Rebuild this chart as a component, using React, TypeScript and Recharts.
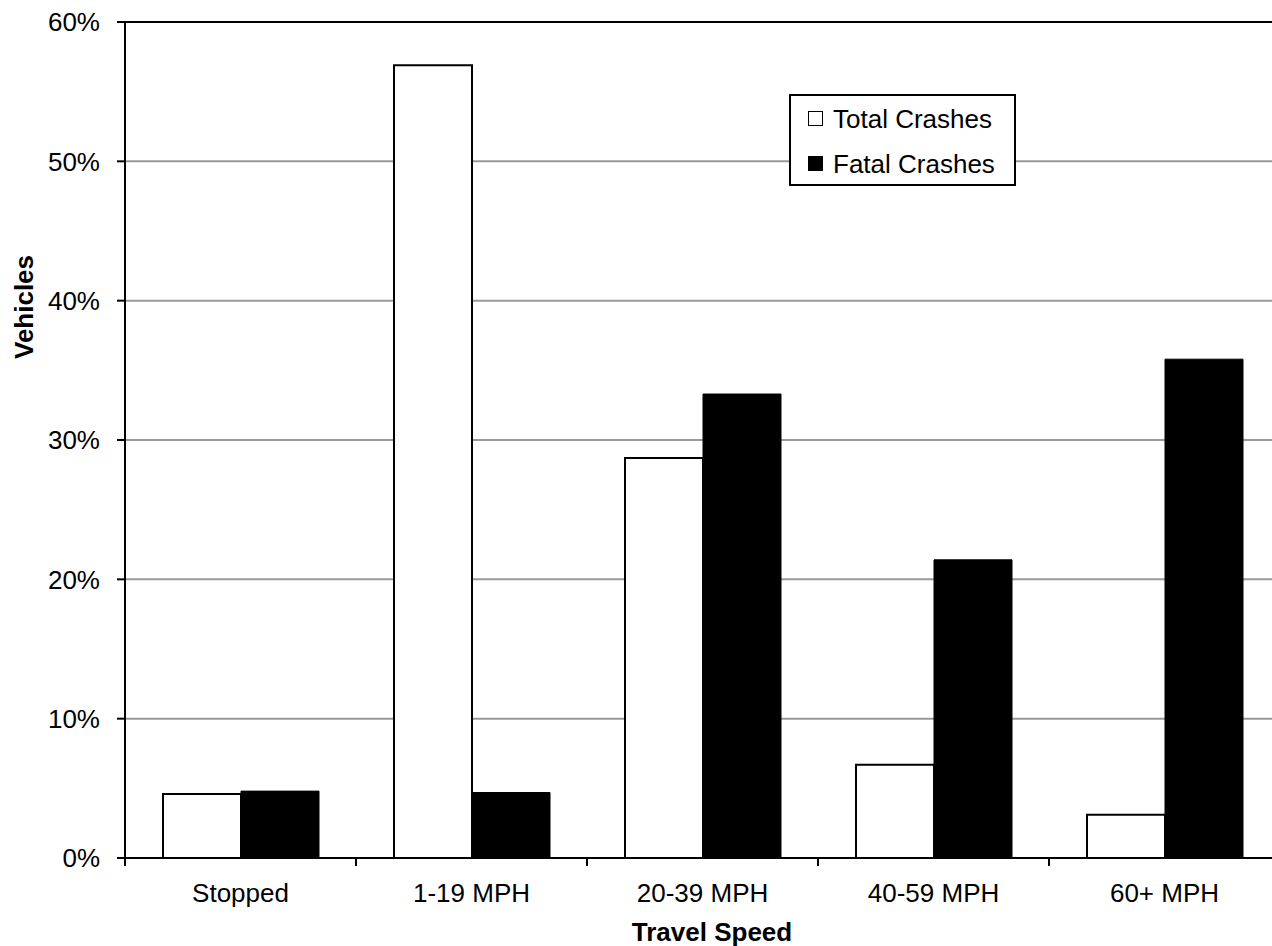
import { BarChart, Bar, XAxis, YAxis, CartesianGrid, ReferenceLine, Legend } from 'recharts'

const speeds = ['Stopped', '1-19 MPH', '20-39 MPH', '40-59 MPH', '60+ MPH']
const totalCrashes = [0.046, 0.569, 0.287, 0.067, 0.031]
const fatalCrashes = [0.048, 0.047, 0.333, 0.214, 0.358]
const yTicks = [0, 0.1, 0.2, 0.3, 0.4, 0.5, 0.6]

const data = speeds.map((speed, i) => ({ speed, total: totalCrashes[i], fatal: fatalCrashes[i] }))

const CHART_W = 1300
const CHART_H = 946
const Y_W = 125
const RIGHT = 20
const BAND = (CHART_W - Y_W - RIGHT) / speeds.length
const FONT = '"Liberation Sans", Arial, sans-serif'

function SpeedTick(props: any) {
  const { x, y, payload } = props
  const edge = x - BAND / 2
  return (
    <g>
      <line x1={edge} x2={edge} y1={y} y2={y + 8} stroke="#000" strokeWidth={2} />
      <text x={x} y={y + 44} textAnchor="middle" fontSize={26} fill="#000" fontFamily={FONT}>
        {payload.value}
      </text>
    </g>
  )
}

function CrashLegend() {
  const items = [
    { name: 'Total Crashes', fill: '#fff' },
    { name: 'Fatal Crashes', fill: '#000' },
  ]
  return (
    <div
      style={{
        width: 227,
        height: 92,
        boxSizing: 'border-box',
        border: '2px solid #000',
        background: '#fff',
        fontFamily: FONT,
        fontSize: 26,
        color: '#000',
        paddingTop: 0,
      }}
    >
      {items.map(it => (
        <div key={it.name} style={{ display: 'flex', alignItems: 'center', height: 45, paddingLeft: 17 }}>
          <span
            style={{
              display: 'inline-block',
              width: 15,
              height: 15,
              boxSizing: 'border-box',
              border: '1.5px solid #000',
              background: it.fill,
              marginRight: 10,
            }}
          />
          <span style={{ lineHeight: 1 }}>{it.name}</span>
        </div>
      ))}
    </div>
  )
}

export default function App() {
  return (
    <div
      style={{
        position: 'fixed',
        left: 0,
        top: 0,
        width: 1272,
        height: 946,
        overflow: 'hidden',
        background: '#fff',
        fontFamily: FONT,
      }}
    >
      <BarChart
        width={CHART_W}
        height={CHART_H}
        data={data}
        margin={{ top: 22, right: RIGHT, left: 0, bottom: 0 }}
        barCategoryGap={38}
        barGap={0}
      >
        <CartesianGrid vertical={false} stroke="#999" strokeWidth={2} />
        <XAxis
          dataKey="speed"
          height={88}
          interval={0}
          axisLine={{ stroke: '#000', strokeWidth: 2 }}
          tickLine={false}
          tickSize={0}
          tickMargin={0}
          tick={<SpeedTick />}
          label={() => (
            <text x={712} y={941} textAnchor="middle" fontSize={26} fontWeight="bold" fill="#000" fontFamily={FONT}>
              Travel Speed
            </text>
          )}
        />
        <YAxis
          width={Y_W}
          domain={[0, 0.6]}
          ticks={yTicks}
          tickFormatter={(v: number) => `${Math.round(v * 100)}%`}
          axisLine={{ stroke: '#000', strokeWidth: 2 }}
          tickLine={{ stroke: '#000', strokeWidth: 2 }}
          tickSize={8}
          tickMargin={17}
          tick={{ fontSize: 26, fill: '#000', fontFamily: FONT }}
          label={() => (
            <text
              x={24}
              y={307}
              transform="rotate(-90 24 307)"
              textAnchor="middle"
              dominantBaseline="central"
              fontSize={26}
              fontWeight="bold"
              fill="#000"
              fontFamily={FONT}
            >
              Vehicles
            </text>
          )}
        />
        <ReferenceLine y={0.6} stroke="#000" strokeWidth={2} />
        <Legend
          layout="vertical"
          align="center"
          verticalAlign="middle"
          wrapperStyle={{ left: 789, top: 94, width: 227, height: 92 }}
          content={<CrashLegend />}
        />
        <Bar dataKey="total" name="Total Crashes" fill="#fff" stroke="#000" strokeWidth={2} isAnimationActive={false} />
        <Bar dataKey="fatal" name="Fatal Crashes" fill="#000" stroke="#000" strokeWidth={1} isAnimationActive={false} />
      </BarChart>
    </div>
  )
}
